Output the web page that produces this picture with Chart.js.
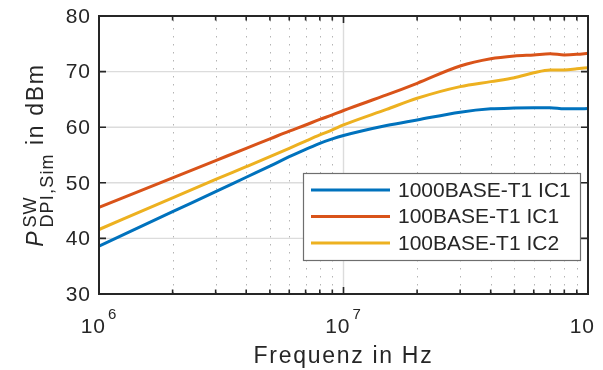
<!DOCTYPE html>
<html>
<head>
<meta charset="utf-8">
<script src="https://cdn.jsdelivr.net/npm/chart.js@4"></script>
<style>
  html, body { margin: 0; padding: 0; background: #fff; }
  #wrap { width: 603px; height: 370px; position: relative; }
</style>
</head>
<body>
<div id="wrap"><canvas id="chart"></canvas></div>
<script>
// frequencies (Hz) shared by all three curves
const FREQ = [1e6, 2e6, 3e6, 4e6, 5e6, 6e6, 7e6, 8e6, 9e6, 1e7, 1.5e7, 2e7, 3e7, 4e7, 5e7, 6e7, 7e7, 8e7, 9e7, 1e8];
// P_DPI,Sim^SW in dBm
const GBASE_IC1 = [38.6, 44.8, 48.4, 51.0, 53.0, 54.7, 56.0, 57.1, 57.9, 58.5, 60.3, 61.3, 62.7, 63.3, 63.45, 63.5, 63.5, 63.3, 63.3, 63.35];
const FE_IC1    = [45.6, 50.9, 54.0, 56.2, 57.9, 59.3, 60.4, 61.4, 62.2, 63.0, 65.8, 67.9, 71.0, 72.3, 72.8, 73.0, 73.2, 73.0, 73.1, 73.3];
const FE_IC2    = [41.6, 47.3, 50.6, 52.9, 54.7, 56.2, 57.5, 58.6, 59.5, 60.4, 63.2, 65.2, 67.3, 68.2, 68.9, 69.8, 70.3, 70.3, 70.5, 70.7];
const SERIES_NAMES = ['1000BASE-T1 IC1', '100BASE-T1 IC1', '100BASE-T1 IC2'];
const SERIES_COLORS = ['#0072BD', '#D95319', '#EDB120'];
const Y_TICKS = [30, 40, 50, 60, 70, 80];
const X_DECADES = [6, 7, 8];

const FONT = '"Liberation Sans", Arial, Helvetica, sans-serif';
const TXT = '#262626';

function pts(vals) { return FREQ.map((f, i) => ({ x: f, y: vals[i] })); }

const matlabAxes = {
  id: 'matlabAxes',
  beforeDatasetsDraw(chart) {
    const { ctx, chartArea: a, scales: { x, y } } = chart;
    ctx.save();
    // minor x grid (dotted)
    ctx.strokeStyle = '#b4b4b4';
    ctx.lineWidth = 1;
    ctx.setLineDash([1.5, 6.5]);
    X_DECADES.slice(0, -1).forEach(d => {
      for (let m = 2; m <= 9; m++) {
        const px = Math.round(x.getPixelForValue(m * Math.pow(10, d))) + 0.5;
        ctx.beginPath(); ctx.moveTo(px, a.top + 4); ctx.lineTo(px, a.bottom); ctx.stroke();
      }
    });
    ctx.setLineDash([]);
    // major grid
    ctx.strokeStyle = '#dcdcdc';
    ctx.lineWidth = 1.4;
    Y_TICKS.slice(1, -1).forEach(v => {
      const py = y.getPixelForValue(v);
      ctx.beginPath(); ctx.moveTo(a.left, py); ctx.lineTo(a.right, py); ctx.stroke();
    });
    X_DECADES.slice(1, -1).forEach(d => {
      const px = x.getPixelForValue(Math.pow(10, d));
      ctx.beginPath(); ctx.moveTo(px, a.top); ctx.lineTo(px, a.bottom); ctx.stroke();
    });
    ctx.restore();
  },
  afterDatasetsDraw(chart) {
    const { ctx, chartArea: a, scales: { x, y } } = chart;
    ctx.save();
    // axes box + inward ticks
    ctx.strokeStyle = TXT;
    ctx.lineWidth = 2;
    ctx.strokeRect(a.left, a.top, a.right - a.left, a.bottom - a.top);
    ctx.lineWidth = 1.6;
    Y_TICKS.forEach(v => {
      const py = y.getPixelForValue(v);
      ctx.beginPath();
      ctx.moveTo(a.left, py); ctx.lineTo(a.left + 7, py);
      ctx.moveTo(a.right, py); ctx.lineTo(a.right - 7, py);
      ctx.stroke();
    });
    X_DECADES.forEach((d, k) => {
      const reps = k < X_DECADES.length - 1 ? 9 : 1;
      for (let m = 1; m <= reps; m++) {
        const px = x.getPixelForValue(m * Math.pow(10, d));
        const len = m === 1 ? 7 : 4.5;
        ctx.beginPath();
        ctx.moveTo(px, a.bottom); ctx.lineTo(px, a.bottom - len);
        ctx.moveTo(px, a.top); ctx.lineTo(px, a.top + len);
        ctx.stroke();
      }
    });

    // y tick labels
    ctx.fillStyle = TXT;
    ctx.font = '21px ' + FONT;
    ctx.textAlign = 'right';
    ctx.textBaseline = 'middle';
    ctx.letterSpacing = '1px';
    Y_TICKS.forEach(v => ctx.fillText(String(v), a.left - 8, y.getPixelForValue(v) + 1));

    // x tick labels 10^n (exponent dropped when it would fall off the page, as in the export)
    ctx.textAlign = 'left';
    ctx.textBaseline = 'alphabetic';
    X_DECADES.forEach(d => {
      const px = x.getPixelForValue(Math.pow(10, d));
      ctx.font = '21px ' + FONT;
      const wb = ctx.measureText('10').width;
      ctx.font = '15px ' + FONT;
      const we = ctx.measureText(String(d)).width;
      const x0 = px - (wb + we + 2) / 2;
      ctx.font = '21px ' + FONT;
      ctx.fillText('10', x0, 333);
      if (x0 + wb + 2 + we <= chart.width) {
        ctx.font = '15px ' + FONT;
        ctx.fillText(String(d), x0 + wb + 2, 319);
      }
    });

    // x title
    ctx.font = '23px ' + FONT;
    ctx.letterSpacing = '1.7px';
    ctx.textAlign = 'center';
    ctx.fillText('Frequenz in Hz', (a.left + a.right) / 2, 363);

    // y title: P^SW_DPI,Sim in dBm
    ctx.save();
    ctx.translate(43, (a.top + a.bottom) / 2);
    ctx.rotate(-Math.PI / 2);
    ctx.textAlign = 'left';
    ctx.font = 'italic 23px ' + FONT; ctx.letterSpacing = '1.7px';
    const wP = ctx.measureText('P').width;
    ctx.font = '18px ' + FONT; ctx.letterSpacing = '1.2px';
    const wSup = ctx.measureText('SW').width;
    const wSub = ctx.measureText('DPI,Sim').width;
    ctx.font = '23px ' + FONT; ctx.letterSpacing = '1.7px';
    const wRest = ctx.measureText(' in dBm').width;
    const total = wP + 2 + Math.max(wSup, wSub) + wRest;
    let cx = -total / 2;
    ctx.font = 'italic 23px ' + FONT; ctx.letterSpacing = '1.7px';
    ctx.fillText('P', cx, 0);
    cx += wP + 2;
    ctx.font = '18px ' + FONT; ctx.letterSpacing = '1.2px';
    ctx.fillText('SW', cx, -7);
    ctx.fillText('DPI,Sim', cx, 10);
    cx += Math.max(wSup, wSub);
    ctx.font = '23px ' + FONT; ctx.letterSpacing = '1.7px';
    ctx.fillText(' in dBm', cx, 0);
    ctx.restore();

    // legend
    ctx.letterSpacing = '0px';
    ctx.fillStyle = '#fff';
    ctx.fillRect(303, 173, 277, 87);
    ctx.strokeStyle = '#6e6e6e';
    ctx.lineWidth = 1.2;
    ctx.strokeRect(303.5, 173.5, 277, 87);
    ctx.font = '21px ' + FONT;
    ctx.textAlign = 'left';
    ctx.textBaseline = 'middle';
    SERIES_NAMES.forEach((name, i) => {
      const ly = 190 + i * 26.5;
      ctx.strokeStyle = SERIES_COLORS[i];
      ctx.lineWidth = 3;
      ctx.beginPath(); ctx.moveTo(311, ly); ctx.lineTo(390, ly); ctx.stroke();
      ctx.fillStyle = TXT;
      ctx.fillText(name, 398, ly + 1);
    });
    ctx.restore();
  }
};

new Chart(document.getElementById('chart'), {
  type: 'line',
  data: {
    datasets: [GBASE_IC1, FE_IC1, FE_IC2].map((vals, i) => ({
      label: SERIES_NAMES[i],
      data: pts(vals),
      borderColor: SERIES_COLORS[i],
      borderWidth: 3,
      pointRadius: 0,
      cubicInterpolationMode: 'monotone',
      fill: false
    }))
  },
  options: {
    responsive: true,
    maintainAspectRatio: false,
    animation: false,
    layout: { padding: { left: 99, right: 15, top: 16, bottom: 76 } },
    plugins: { legend: { display: false }, tooltip: { enabled: false } },
    scales: {
      x: { type: 'logarithmic', min: 1e6, max: 1e8, display: false },
      y: { type: 'linear', min: 30, max: 80, display: false }
    }
  },
  plugins: [matlabAxes]
});
</script>
</body>
</html>
